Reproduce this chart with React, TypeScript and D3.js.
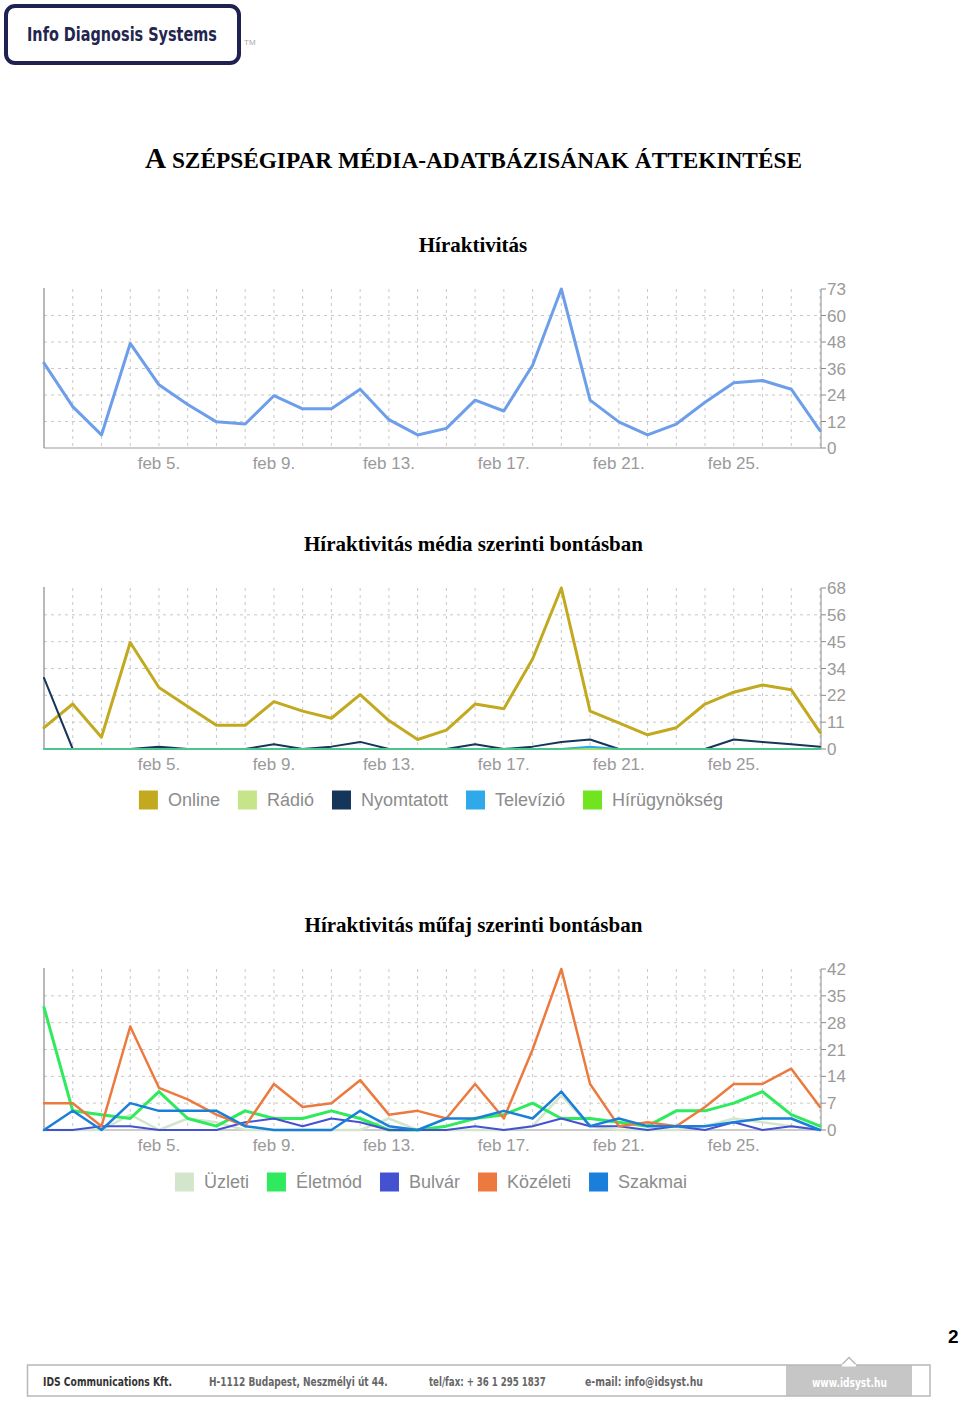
import React from "react";
import * as d3 from "d3";

// ---------- DATA ----------
const days = [
  "feb 1.", "feb 2.", "feb 3.", "feb 4.", "feb 5.", "feb 6.", "feb 7.", "feb 8.", "feb 9.", "feb 10.",
  "feb 11.", "feb 12.", "feb 13.", "feb 14.", "feb 15.", "feb 16.", "feb 17.", "feb 18.", "feb 19.", "feb 20.",
  "feb 21.", "feb 22.", "feb 23.", "feb 24.", "feb 25.", "feb 26.", "feb 27.", "feb 28.",
];
const xTickLabels = ["feb 5.", "feb 9.", "feb 13.", "feb 17.", "feb 21.", "feb 25."];

// Chart 1: Híraktivitás
const totalActivity = [39, 19, 6, 48, 29, 20, 12, 11, 24, 18, 18, 27, 13, 6, 9, 22, 17, 38, 73, 22, 12, 6, 11, 21, 30, 31, 27, 8];
const yTicks1 = ["0", "12", "24", "36", "48", "60", "73"];
const yMax1 = 73;

// Chart 2: média szerinti bontás
const mediaNames = ["Online", "Rádió", "Nyomtatott", "Televízió", "Hírügynökség"];
const mediaColors = ["#c2a91f", "#c6e58a", "#15365a", "#30a9ea", "#6fe41f"];
const online = [9, 19, 5, 45, 26, 18, 10, 10, 20, 16, 13, 23, 12, 4, 8, 19, 17, 38, 68, 16, 11, 6, 9, 19, 24, 27, 25, 7];
const radio = [0, 0, 0, 0, 0, 0, 0, 0, 0, 0, 0, 0, 0, 0, 0, 0, 0, 0, 0, 0, 0, 0, 0, 0, 0, 0, 0, 0];
const nyomtatott = [30, 0, 0, 0, 1, 0, 0, 0, 2, 0, 1, 3, 0, 0, 0, 2, 0, 1, 3, 4, 0, 0, 0, 0, 4, 3, 2, 1];
const televizio = [0, 0, 0, 0, 0, 0, 0, 0, 0, 0, 0, 0, 0, 0, 0, 0, 0, 0, 0, 1, 0, 0, 0, 0, 0, 0, 0, 0];
const hirugynokseg = [0, 0, 0, 0, 0, 0, 0, 0, 0, 0, 0, 0, 0, 0, 0, 0, 0, 0, 0, 0, 0, 0, 0, 0, 0, 0, 0, 0];
const yTicks2 = ["0", "11", "22", "34", "45", "56", "68"];
const yMax2 = 68;

// Chart 3: műfaj szerinti bontás
const genreNames = ["Üzleti", "Életmód", "Bulvár", "Közéleti", "Szakmai"];
const genreColors = ["#d3e6cc", "#2eea5c", "#4452d2", "#ec7a3f", "#1a7fda"];
const uzleti = [0, 0, 0, 4, 0, 3, 2, 0, 0, 0, 0, 0, 3, 0, 0, 0, 0, 1, 9, 1, 0, 0, 0, 1, 3, 2, 1, 0];
const eletmod = [32, 5, 4, 3, 10, 3, 1, 5, 3, 3, 5, 3, 0, 0, 1, 3, 4, 7, 3, 3, 2, 1, 5, 5, 7, 10, 4, 1];
const bulvar = [0, 0, 1, 1, 0, 0, 0, 2, 3, 1, 3, 2, 0, 0, 0, 1, 0, 1, 3, 1, 1, 0, 1, 0, 2, 0, 1, 0];
const kozeleti = [7, 7, 1, 27, 11, 8, 4, 1, 12, 6, 7, 13, 4, 5, 3, 12, 3, 21, 42, 12, 1, 2, 1, 6, 12, 12, 16, 6];
const szakmai = [0, 5, 0, 7, 5, 5, 5, 1, 0, 0, 0, 5, 1, 0, 3, 3, 5, 3, 10, 1, 3, 1, 1, 1, 2, 3, 3, 0];
const yTicks3 = ["0", "7", "14", "21", "28", "35", "42"];
const yMax3 = 42;

// ---------- LAYOUT ----------
const W = 960;
const H = 1409;
const PLOT_LEFT = 44;
const PLOT_RIGHT = 820;
const AXIS_FONT = "'Liberation Sans', Arial, Helvetica, sans-serif";
const NARROW = "'Liberation Sans Narrow', 'Arial Narrow', 'DejaVu Sans Condensed', 'Liberation Sans', sans-serif";
const SERIF = "'Liberation Serif', 'Times New Roman', Times, serif";

const x = d3.scalePoint<string>().domain(days).range([PLOT_LEFT, PLOT_RIGHT]);

function measure(text: string, font: string): number {
  const c = document.createElement("canvas").getContext("2d");
  if (!c) return text.length * 9;
  c.font = font;
  return c.measureText(text).width;
}

// Text squeezed horizontally to a target width (condensed look)
function FitText({ text, x0, y0, width, size, bold, family, fill }: { text: string; x0: number; y0: number; width: number; size: number; bold?: boolean; family: string; fill: string }) {
  const natural = measure(text, `${bold ? "bold " : ""}${size}px ${family}`);
  const sx = natural > 0 ? width / natural : 1;
  return (
    <text transform={`translate(${x0},${y0}) scale(${sx},1)`} fontSize={size} fontWeight={bold ? "bold" : "normal"} fontFamily={family} fill={fill}>
      {text}
    </text>
  );
}

type Series = { name: string; color: string; values: number[]; width: number; opacity?: number };

function LineChart({ top, bottom, yMax, yTicks, series }: { top: number; bottom: number; yMax: number; yTicks: string[]; series: Series[] }) {
  const y = d3.scaleLinear().domain([0, yMax]).range([bottom, top]);
  const n = yTicks.length - 1;
  const tickPos = yTicks.map((_, i) => y((yMax * i) / n));
  const line = d3
    .line<number>()
    .x((_, i) => x(days[i]) as number)
    .y((v) => y(v));
  const axisX = PLOT_RIGHT + 1;
  return (
    <g>
      {days.map((d, i) =>
        i === 0 ? null : (
          <line key={"v" + d} x1={x(d)} x2={x(d)} y1={top} y2={bottom} stroke="#c8c8c8" strokeWidth={1} strokeDasharray="3,4" />
        )
      )}
      {tickPos.map((p, i) =>
        i === 0 || i === n ? null : (
          <line key={"h" + i} x1={PLOT_LEFT} x2={PLOT_RIGHT} y1={p} y2={p} stroke="#c8c8c8" strokeWidth={1} strokeDasharray="3,4" />
        )
      )}
      <line x1={PLOT_LEFT} x2={PLOT_LEFT} y1={top - 1} y2={bottom} stroke="#8a8a8a" strokeWidth={1.2} />
      <line x1={PLOT_LEFT} x2={axisX} y1={bottom} y2={bottom} stroke="#9a9a9a" strokeWidth={1.2} />
      <line x1={axisX} x2={axisX} y1={top} y2={bottom} stroke="#8a8a8a" strokeWidth={1} />
      {tickPos.map((p, i) => (
        <g key={"t" + i}>
          <line x1={axisX} x2={axisX + 5} y1={p} y2={p} stroke="#8a8a8a" strokeWidth={1} />
          <text x={axisX + 6} y={p} dy="0.36em" fontSize={17} fontFamily={AXIS_FONT} fill="#9a9a9a">
            {yTicks[i]}
          </text>
        </g>
      ))}
      {xTickLabels.map((l) => (
        <text key={l} x={x(l)} y={bottom + 21} textAnchor="middle" fontSize={17} fontFamily={AXIS_FONT} fill="#9a9a9a">
          {l}
        </text>
      ))}
      {series.map((s) => (
        <path
          key={s.name}
          d={line(s.values) || ""}
          fill="none"
          stroke={s.color}
          strokeOpacity={s.opacity ?? 1}
          strokeWidth={s.width}
          strokeLinejoin="round"
          strokeLinecap="round"
        />
      ))}
    </g>
  );
}

function Legend({ names, colors, y, center }: { names: string[]; colors: string[]; y: number; center: number }) {
  const font = `18px ${AXIS_FONT}`;
  const sq = 19;
  const gapText = 10;
  const gapItem = 18;
  const widths = names.map((n) => measure(n, font));
  const total = widths.reduce((a, w) => a + sq + gapText + w, 0) + gapItem * (names.length - 1);
  let cx = center - total / 2;
  const items = names.map((n, i) => {
    const it = { name: n, color: colors[i], x: cx };
    cx += sq + gapText + widths[i] + gapItem;
    return it;
  });
  return (
    <g>
      {items.map((it) => (
        <g key={it.name}>
          <rect x={it.x} y={y - 9.5} width={sq} height={sq} fill={it.color} />
          <text x={it.x + sq + gapText} y={y} dy="0.36em" fontSize={18} fontFamily={AXIS_FONT} fill="#8c8c8c">
            {it.name}
          </text>
        </g>
      ))}
    </g>
  );
}

export default function App() {
  const s1: Series[] = [{ name: "Híraktivitás", color: "#6d9eea", values: totalActivity, width: 3 }];
  const mediaValues = [online, radio, nyomtatott, televizio, hirugynokseg];
  const mediaWidths = [3, 2, 2, 2, 2];
  const mediaOpacity = [1, 0.6, 1, 1, 0.45];
  const s2: Series[] = mediaNames.map((n, i) => ({ name: n, color: mediaColors[i], values: mediaValues[i], width: mediaWidths[i], opacity: mediaOpacity[i] }));
  const genreValues = [uzleti, eletmod, bulvar, kozeleti, szakmai];
  const genreWidths = [2.5, 3, 2, 2.5, 2.5];
  const s3: Series[] = genreNames.map((n, i) => ({ name: n, color: genreColors[i], values: genreValues[i], width: genreWidths[i] }));

  return (
    <svg width={W} height={H} viewBox={`0 0 ${W} ${H}`} style={{ position: "absolute", left: 0, top: 0, background: "#fff" }}>
      <rect x={0} y={0} width={W} height={H} fill="#fff" />
      {/* logo */}
      <rect x={6} y={6} width={233} height={57} rx={9} ry={9} fill="#fff" stroke="#1f2152" strokeWidth={4} />
      <FitText text="Info Diagnosis Systems" x0={27} y0={41} width={190} size={19} bold family={NARROW} fill="#23264f" />
      <text x={244} y={45} fontSize={8} fontFamily={AXIS_FONT} fill="#aaa">
        TM
      </text>

      {/* main title */}
      <text x={145} y={168} fontFamily={SERIF} fontWeight="bold" fill="#000" textLength={657} lengthAdjust="spacingAndGlyphs">
        <tspan fontSize={30}>A</tspan>
        <tspan fontSize={24}> SZÉPSÉGIPAR MÉDIA-ADATBÁZISÁNAK ÁTTEKINTÉSE</tspan>
      </text>

      {/* chart 1 */}
      <text x={473} y={252} textAnchor="middle" fontFamily={SERIF} fontWeight="bold" fontSize={21} fill="#000">
        Híraktivitás
      </text>
      <LineChart top={289} bottom={448} yMax={yMax1} yTicks={yTicks1} series={s1} />

      {/* chart 2 */}
      <text x={473.5} y={551} textAnchor="middle" fontFamily={SERIF} fontWeight="bold" fontSize={21} fill="#000">
        Híraktivitás média szerinti bontásban
      </text>
      <LineChart top={588} bottom={749} yMax={yMax2} yTicks={yTicks2} series={s2} />
      <Legend names={mediaNames} colors={mediaColors} y={800} center={431} />

      {/* chart 3 */}
      <text x={473.5} y={932} textAnchor="middle" fontFamily={SERIF} fontWeight="bold" fontSize={21} fill="#000">
        Híraktivitás műfaj szerinti bontásban
      </text>
      <LineChart top={969} bottom={1130} yMax={yMax3} yTicks={yTicks3} series={s3} />
      <Legend names={genreNames} colors={genreColors} y={1182} center={431} />

      {/* page number */}
      <text x={948} y={1343} fontSize={19} fontWeight="bold" fontFamily={AXIS_FONT} fill="#000">
        2
      </text>

      {/* footer */}
      <rect x={786} y={1365} width={126} height={31} fill="#c6c6c6" />
      <rect x={27.5} y={1365} width={902.5} height={31} fill="none" stroke="#b8b8b8" strokeWidth={1.5} />
      <polygon points="841,1365.5 849,1357.5 857,1365.5" fill="#fff" stroke="#b8b8b8" strokeWidth={1.5} strokeLinejoin="miter" />
      <rect x={841.8} y={1364.3} width={14.4} height={2.2} fill="#fff" />
      <FitText text="IDS Communications Kft." x0={43} y0={1386} width={129} size={12.5} bold family={NARROW} fill="#333" />
      <FitText text="H-1112 Budapest, Neszmélyi út 44." x0={209} y0={1386} width={179} size={12.5} bold family={NARROW} fill="#666" />
      <FitText text="tel/fax: + 36 1 295 1837" x0={429} y0={1386} width={117} size={12.5} bold family={NARROW} fill="#666" />
      <FitText text="e-mail: info@idsyst.hu" x0={585} y0={1386} width={118} size={12.5} bold family={NARROW} fill="#666" />
      <FitText text="www.idsyst.hu" x0={812} y0={1387} width={75} size={12.5} bold family={NARROW} fill="#fff" />
    </svg>
  );
}
